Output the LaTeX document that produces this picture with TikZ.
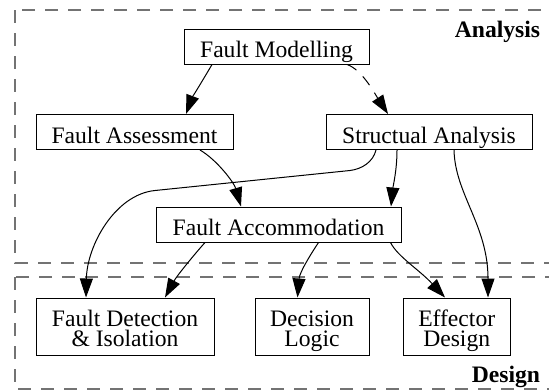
\documentclass[tikz,border=0pt]{standalone}
\usepackage{fontspec}
\setmainfont{Liberation Serif}
\usetikzlibrary{arrows.meta,calc}
\newcommand\twoline[2]{\vbox{\baselineskip=10.4pt\lineskiplimit=-20pt\halign{\hfil##\hfil\cr #1\cr #2\cr}}}
\begin{document}
\begin{tikzpicture}[x=0.5pt,y=-0.5pt,
  box/.style={draw=black, line width=0.5pt, inner sep=0pt,
    font=\fontsize{11.8}{10.4}\selectfont, text height=11pt, text depth=0pt},
  tbox/.style={box, text height=20.4pt, text depth=0pt, minimum height=28.5pt},
  edge/.style={line width=0.5pt, -{Triangle[length=9.5pt,width=6.5pt]}},
  frame/.style={draw=black!55, line width=0.65pt, dash pattern=on 6.5pt off 5pt},
  lab/.style={font=\fontsize{11.8}{14}\selectfont\bfseries, anchor=base east, inner sep=0pt}]
\useasboundingbox (0,0) rectangle (549,391);
\clip (0,0) rectangle (549,391);
% frames
\draw[frame] (15,10) rectangle (600,263);
\draw[frame] (15,277) rectangle (600,389);
\node[lab] (lana) at (540.5,37) {Analysis};
\node[lab] (ldes) at (540.5,382) {Design};
% nodes
\node[box, minimum width=92.5pt, minimum height=17.5pt] (fm) at (276.5,46.5) {Fault Modelling};
\node[box, minimum width=98.5pt, minimum height=17.5pt] (fa) at (134.5,132) {Fault Assessment};
\node[box, minimum width=103pt, minimum height=17.5pt] (sa) at (429,132) {Structual Analysis};
\node[box, minimum width=122.5pt, minimum height=17.5pt] (facc) at (278.5,224.5) {Fault Accommodation};
\node[tbox, minimum width=89pt] (fdi) at (125,326.5) {\twoline{Fault Detection}{\& Isolation}};
\node[tbox, minimum width=57pt] (dl) at (312,326.5) {\twoline{Decision}{Logic}};
\node[tbox, minimum width=53.3pt] (eff) at (456.7,326.5) {\twoline{Effector}{Design}};
% connectors
\draw[edge] ($(fm.south)+(-64.5,0)$) .. controls +(-7,12) and +(6,-16) .. ($(fa.north)+(51.5,0)$);
\draw[edge, dash pattern=on 5.5pt off 4.5pt] ($(fm.south)+(70.5,0)$) .. controls +(15,5) and +(-13,-20) .. ($(sa.north)+(-41,0)$);
\draw[edge] ($(fa.south)+(65.5,0)$) .. controls +(17,10) and +(-7,-24) .. ($(facc.north)+(-37.5,0)$);
\draw[edge] ($(sa.south)+(-32,0)$) .. controls +(0,20) and +(2,-20) .. ($(facc.north)+(112.5,0)$);
\draw[edge] ($(sa.south)+(-53,0)$) .. controls +(-3,12) and +(12,-1.5) .. (350,170.5) -- (155,190.5) .. controls +(-40,4) and +(1,-52) .. ($(fdi.north)+(-39,0)$);
\draw[edge] ($(sa.south)+(25,0)$) .. controls +(1,44) and +(0,-72) .. ($(eff.north)+(31.3,0)$);
\draw[edge] ($(facc.south)+(-73.5,0)$) .. controls +(-9,10) and +(12,-22) .. ($(fdi.north)+(40,0)$);
\draw[edge] ($(facc.south)+(40,0)$) .. controls +(-8,12) and +(2,-25) .. ($(dl.north)+(-14.5,0)$);
\draw[edge] ($(facc.south)+(112,0)$) .. controls +(7,14) and +(-26,-28) .. ($(eff.north)+(-11.7,0)$);
\end{tikzpicture}
\end{document}
